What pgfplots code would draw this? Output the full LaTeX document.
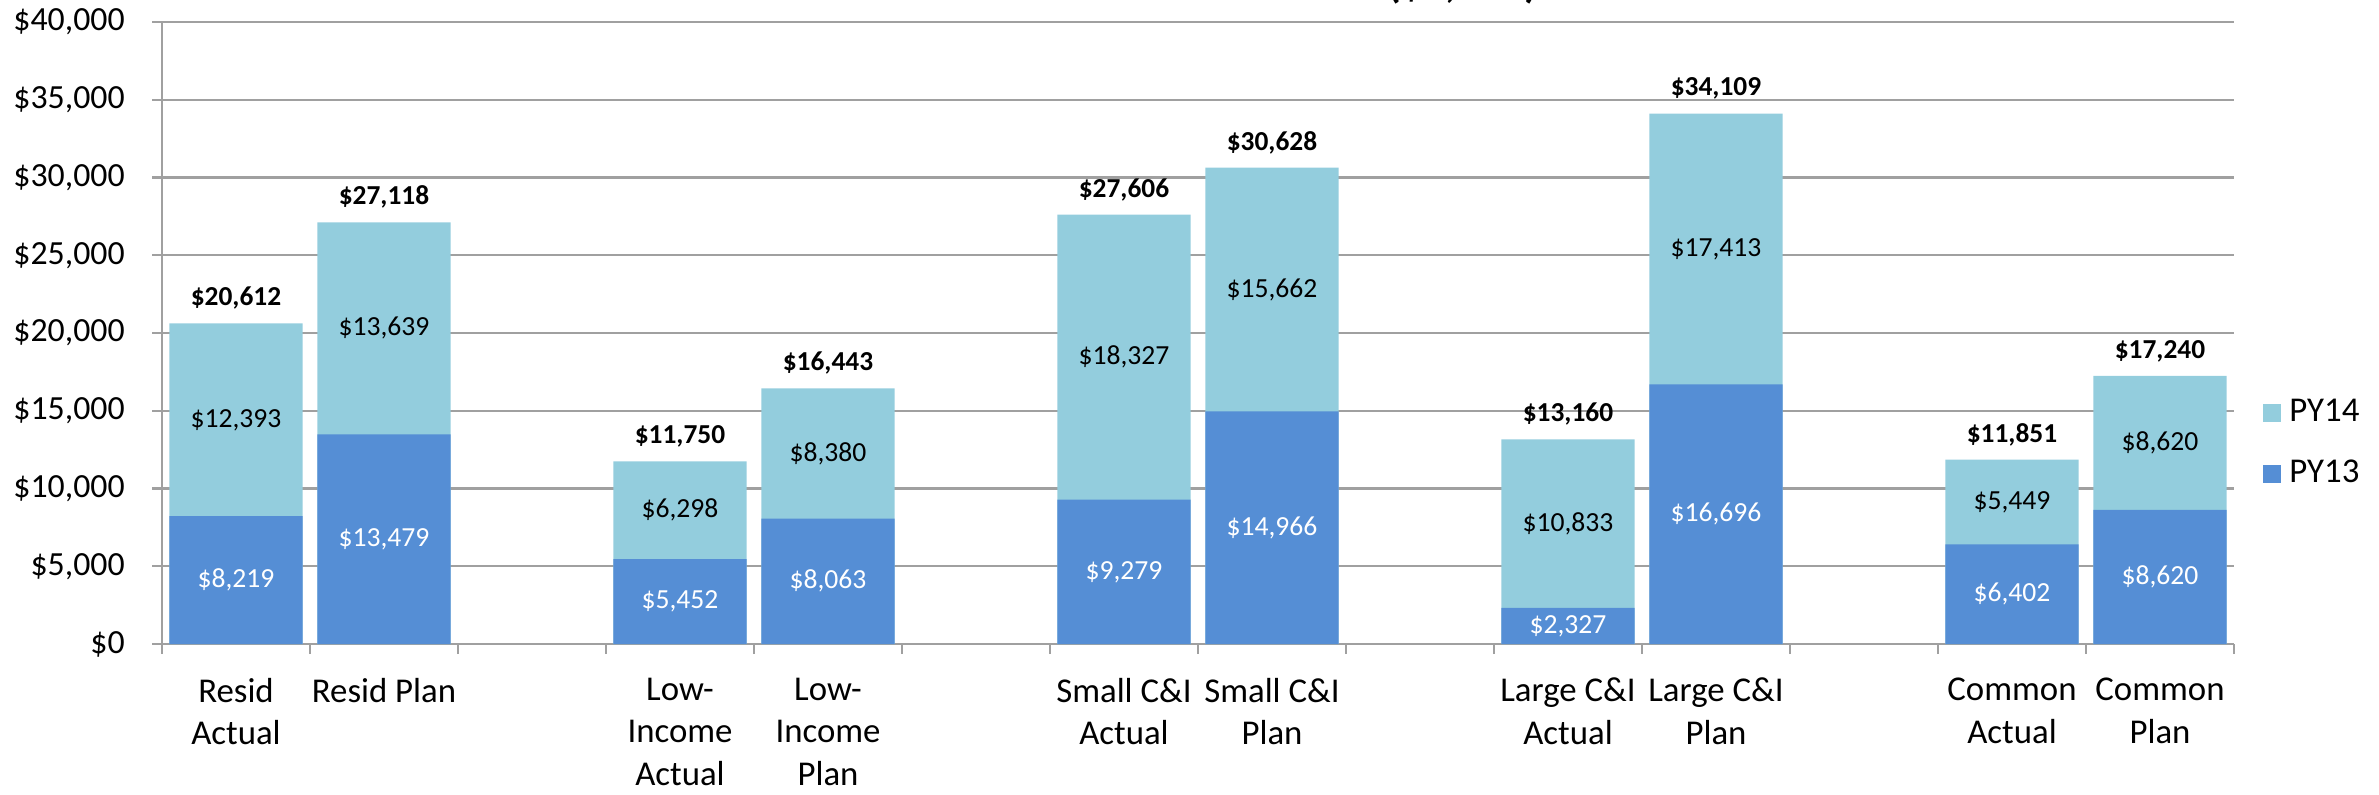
\documentclass[border=0pt]{standalone}
\usepackage{pgfplots}
\usepackage{pgfplotstable}
\pgfplotsset{compat=1.18}
\usepackage{fontspec}
\setmainfont{Carlito}

\definecolor{pyfourteen}{HTML}{93CDDD}
\definecolor{pythirteen}{HTML}{558ED5}
\definecolor{gridgray}{HTML}{A0A0A0}

% PY13 / PY14 spend per sector, actual vs plan
\pgfplotstableread{
x  py13  py14  total
0  8219  12393 20612
1  13479 13639 27118
3  5452  6298  11750
4  8063  8380  16443
6  9279  18327 27606
7  14966 15662 30628
9  2327  10833 13160
10 16696 17413 34109
12 6402  5449  11851
13 8620  8620  17240
}\costs

\pgfkeys{/pgf/number format/.cd, fixed, precision=0, 1000 sep={,}, assume math mode=true}

\begin{document}
\begin{tikzpicture}
\node[anchor=base east, font=\bfseries\fontsize{11}{13}\selectfont] at (388pt,199.2pt) {(\$1,000)};
\begin{axis}[
  at={(40.5pt,37.5pt)}, anchor=south west,
  scale only axis, width=518pt, height=155.5pt,
  xmin=-0.5, xmax=13.5, ymin=0, ymax=40000,
  axis x line*=bottom, axis y line*=left,
  axis line style={gridgray, line width=0.6pt, -},
  ytick={0,5000,...,40000},
  ymajorgrids, grid style={gridgray, line width=0.6pt},
  tick align=outside,
  major tick length=2.5pt, minor tick length=2.5pt,
  tick style={gridgray, line width=0.6pt},
  every major x tick/.append style={draw=none},
  scaled y ticks=false,
  yticklabel={\$\pgfmathprintnumber{\tick}},
  yticklabel style={font=\fontsize{8.45}{10}\selectfont, xshift=-3.3pt},
  xtick={0,1,3,4,6,7,9,10,12,13},
  xticklabels={{Resid\\Actual},{Resid Plan},{Low-\\Income\\Actual},{Low-\\Income\\Plan},
    {Small C\&I\\Actual},{Small C\&I\\Plan},{Large C\&I\\Actual},{Large C\&I\\Plan},
    {Common\\Actual},{Common\\Plan}},
  xticklabel style={align=center, font=\fontsize{8.7}{10.6}\selectfont, yshift=-2.5pt},
  minor xtick={-0.5,0.5,...,13.5},
  legend style={at={(1.008,0.322)}, anchor=west, draw=none, fill=none,
    font=\fontsize{8.7}{10}\selectfont, row sep=4pt,
    /tikz/every even column/.append style={column sep=1pt}},
  legend cell align=left,
  legend image code/.code={\fill[#1] (0pt,-2.25pt) rectangle (4.5pt,2.25pt);},
  seglabel/.style={draw=none, mark=none, forget plot,
    nodes near coords={\$\pgfmathprintnumber{\pgfplotspointmeta}},
    every node near coord/.append style={anchor=center, font=\fontsize{6.9}{8}\selectfont}},
]
% PY14 sits on top of PY13: draw the full stack in PY14 colour, then PY13 over it
\addplot[ybar, bar width=0.9, bar shift=0pt, fill=pyfourteen, draw=none,
  nodes near coords={\$\pgfmathprintnumber{\pgfplotspointmeta}},
  point meta=\thisrow{total},
  every node near coord/.append style={anchor=south, text=black, inner sep=1pt, yshift=2.3pt,
    font=\bfseries\fontsize{6.85}{8}\selectfont},
] table[x=x, y=total] {\costs};
\addlegendentry{PY14}
\addplot[ybar, bar width=0.9, bar shift=0pt, fill=pythirteen, draw=none]
  table[x=x, y=py13] {\costs};
\addlegendentry{PY13}
% segment value labels, centred in each segment
\addplot[seglabel, point meta=\thisrow{py13}, every node near coord/.append style={text=white}]
  table[x=x, y expr=\thisrow{py13}/2] {\costs};
\addplot[seglabel, point meta=\thisrow{py14}, every node near coord/.append style={text=black}]
  table[x=x, y expr=\thisrow{py13}+\thisrow{py14}/2] {\costs};
\end{axis}
\pgfresetboundingbox
\useasboundingbox (0,0) rectangle (594.75pt,198.5pt);
\end{tikzpicture}
\end{document}
